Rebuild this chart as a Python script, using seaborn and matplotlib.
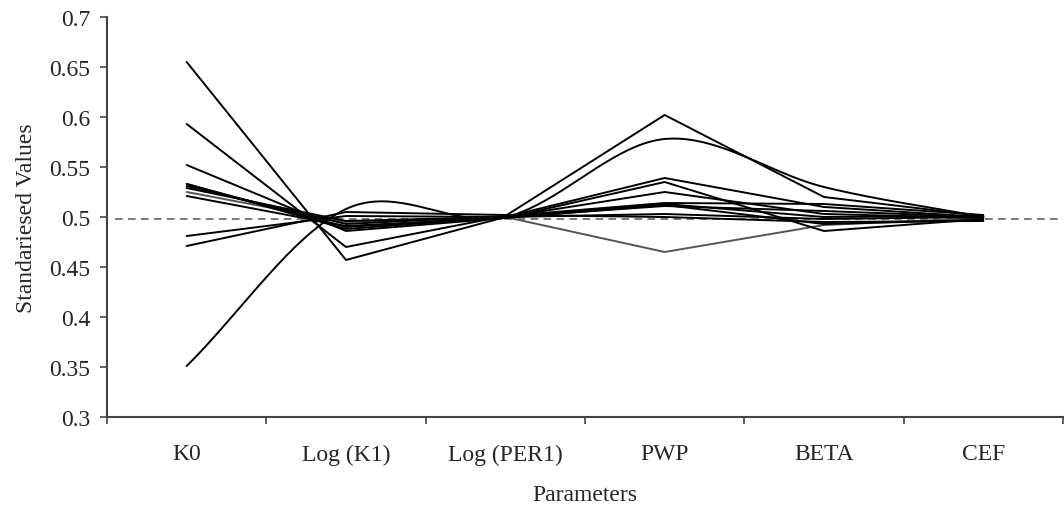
import numpy as np
import pandas as pd
import seaborn as sns
import matplotlib
matplotlib.use('Agg')
import matplotlib.pyplot as plt

# Parameters along the x axis
parameters = ['K0', 'Log (K1)', 'Log (PER1)', 'PWP', 'BETA', 'CEF']

# Standardised values per run
run_01 = [0.655, 0.457, 0.500, 0.539, 0.510, 0.500]
run_02 = [0.593, 0.470, 0.501, 0.602, 0.520, 0.501]
run_03 = [0.552, 0.486, 0.499, 0.535, 0.486, 0.498]
run_04 = [0.533, 0.488, 0.500, 0.525, 0.503, 0.499]
run_05 = [0.531, 0.493, 0.501, 0.514, 0.513, 0.502]
run_06 = [0.525, 0.495, 0.500, 0.465, 0.492, 0.499]  # grey one
run_07 = [0.521, 0.491, 0.499, 0.512, 0.493, 0.497]
run_08 = [0.481, 0.501, 0.500, 0.503, 0.498, 0.500]
run_09 = [0.471, 0.505, 0.502, 0.500, 0.495, 0.496]
run_10 = [0.351, 0.508, 0.500, 0.578, 0.530, 0.500]  # smoothed one
run_11 = [0.533, 0.490, 0.500, 0.513, 0.500, 0.501]
run_12 = [0.529, 0.496, 0.500, 0.511, 0.506, 0.500]

reference_value = 0.4975

straight_runs = [run_01, run_02, run_03, run_04, run_05, run_07,
                 run_08, run_09, run_11, run_12]
grey_runs = [run_06]
smooth_runs = [run_10]


def smooth_curve(ys, n=40):
    # Hermite spline, Catmull-Rom tangents inside, chord tangents at the ends
    ys = np.asarray(ys, dtype=float)
    k = len(ys)
    m = np.zeros(k)
    m[1:-1] = (ys[2:] - ys[:-2]) / 2
    m[0] = ys[1] - ys[0]
    m[-1] = ys[-1] - ys[-2]
    out_x, out_y = [], []
    t = np.linspace(0, 1, n, endpoint=False)
    h00 = 2 * t**3 - 3 * t**2 + 1
    h10 = t**3 - 2 * t**2 + t
    h01 = -2 * t**3 + 3 * t**2
    h11 = t**3 - t**2
    for i in range(k - 1):
        out_x.append(i + t)
        out_y.append(h00 * ys[i] + h10 * m[i] + h01 * ys[i + 1] + h11 * m[i + 1])
    out_x.append([k - 1])
    out_y.append([ys[-1]])
    return np.concatenate(out_x), np.concatenate(out_y)


sns.set_style('white')
plt.rcParams['font.family'] = ['Liberation Serif', 'DejaVu Serif']

fig = plt.figure(figsize=(10.64, 5.10), dpi=100)
ax = fig.add_axes([0.1006, 0.1804, 0.8984, 0.7843])

pos = np.arange(len(parameters))

ax.axhline(reference_value, xmin=0.008, color='#555555', lw=1.1,
           ls=(0, (5, 3.5)), zorder=1)

for run in grey_runs:
    sns.lineplot(x=pos, y=run, color='#555555', lw=1.4, ax=ax,
                 estimator=None, sort=False)
for run in straight_runs:
    sns.lineplot(x=pos, y=run, color='black', lw=1.4, ax=ax,
                 estimator=None, sort=False)
for run in smooth_runs:
    sx, sy = smooth_curve(run)
    sns.lineplot(x=sx, y=sy, color='black', lw=1.4, ax=ax,
                 estimator=None, sort=False)

ax.set_xlim(-0.5, len(parameters) - 0.5)
ax.set_ylim(0.3, 0.7)
yt = np.round(np.arange(0.3, 0.7001, 0.05), 2)
ax.set_yticks(yt)
ax.set_yticklabels([f'{v:g}' for v in yt])

ax.set_xticks(pos)
ax.set_xticklabels(parameters)
ax.set_xticks(np.arange(-0.5, len(parameters)), minor=True)
ax.tick_params(axis='x', which='major', bottom=False, length=0, pad=19, labelsize=17)
ax.tick_params(axis='x', which='minor', bottom=True, length=5, width=1.2,
               color='#444444', direction='out')
ax.tick_params(axis='y', left=True, length=5, width=1.2, color='#444444',
               direction='out', labelsize=17, pad=7)

for side in ['top', 'right']:
    ax.spines[side].set_visible(False)
for side in ['left', 'bottom']:
    ax.spines[side].set_color('#444444')
    ax.spines[side].set_linewidth(1.5)

ax.set_xlabel('Parameters', fontsize=17, labelpad=14)
ax.set_ylabel('Standariesed Values', fontsize=17, labelpad=9)

fig.savefig('out.png', dpi=100)
